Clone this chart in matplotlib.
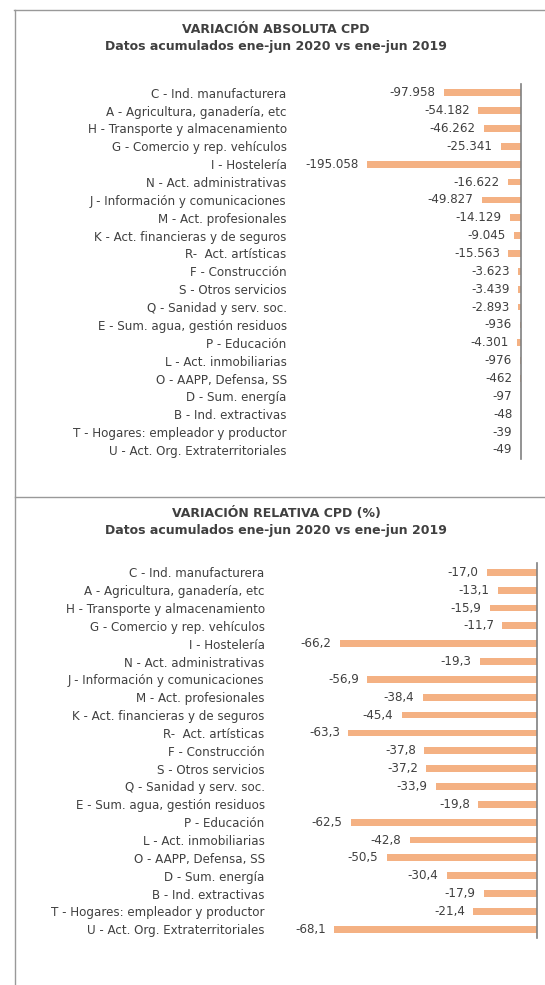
import matplotlib
matplotlib.use("Agg")
import matplotlib.pyplot as plt
from matplotlib.lines import Line2D

plt.rcParams['font.family'] = ['DejaVu Sans']

# Sector labels (same order in both charts)
sectors = [
    "C - Ind. manufacturera",
    "A - Agricultura, ganadería, etc",
    "H - Transporte y almacenamiento",
    "G - Comercio y rep. vehículos",
    "I - Hostelería",
    "N - Act. administrativas",
    "J - Información y comunicaciones",
    "M - Act. profesionales",
    "K - Act. financieras y de seguros",
    "R-  Act. artísticas",
    "F - Construcción",
    "S - Otros servicios",
    "Q - Sanidad y serv. soc.",
    "E - Sum. agua, gestión residuos",
    "P - Educación",
    "L - Act. inmobiliarias",
    "O - AAPP, Defensa, SS",
    "D - Sum. energía",
    "B - Ind. extractivas",
    "T - Hogares: empleador y productor",
    "U - Act. Org. Extraterritoriales",
]

# Absolute variation (number of contracts)
abs_var = [-97958, -54182, -46262, -25341, -195058, -16622, -49827, -14129,
           -9045, -15563, -3623, -3439, -2893, -936, -4301, -976, -462,
           -97, -48, -39, -49]

# Relative variation (%)
rel_var = [-17.0, -13.1, -15.9, -11.7, -66.2, -19.3, -56.9, -38.4, -45.4,
           -63.3, -37.8, -37.2, -33.9, -19.8, -62.5, -42.8, -50.5, -30.4,
           -17.9, -21.4, -68.1]

titles = [
    "VARIACIÓN ABSOLUTA CPD\nDatos acumulados ene-jun 2020 vs ene-jun 2019",
    "VARIACIÓN RELATIVA CPD (%)\nDatos acumulados ene-jun 2020 vs ene-jun 2019",
]

W, H = 545, 985
BAR = "#F4B183"
TXT = "#404040"
FRAME = "#999999"
FS = 8.6

fig = plt.figure(figsize=(W / 100, H / 100), dpi=100)


def px_axes(left, right, top, bottom):
    return fig.add_axes([left / W, 1 - bottom / H, (right - left) / W, (bottom - top) / H])


def fmt_abs(v):
    return f"{v:,}".replace(",", ".")


def fmt_rel(v):
    return f"{v:.1f}".replace(".", ",")


def bar_panel(ax, values, xmin, fmt, label_pad, gap):
    y = list(range(len(values)))
    ax.barh(y, values, height=0.38, color=BAR, zorder=2)
    ax.set_xlim(xmin, 0)
    ax.set_ylim(len(values) - 0.5, -0.5)
    ax.set_yticks(y)
    ax.set_yticklabels(sectors, fontsize=FS, color=TXT)
    ax.tick_params(axis="y", length=0, pad=label_pad)
    ax.set_xticks([])
    for s in ["top", "left", "bottom"]:
        ax.spines[s].set_visible(False)
    ax.spines["right"].set_color("#808080")
    ax.spines["right"].set_linewidth(1.2)
    ax.patch.set_alpha(0)
    for yi, v in zip(y, values):
        ax.annotate(fmt(v), xy=(v, yi), xytext=(-gap, 0), textcoords="offset points",
                    ha="right", va="center", fontsize=FS, color=TXT)


ax1 = px_axes(295, 520.7, 83.8, 458.9)
bar_panel(ax1, abs_var, -287000, fmt_abs, 6, 6)

ax2 = px_axes(280, 537.3, 563.4, 938.2)
bar_panel(ax2, rel_var, -86.2, fmt_rel, 11, 6)

fig.text(276 / W, 1 - 38 / H, titles[0], ha="center", va="center", fontsize=9,
         fontweight="bold", color=TXT, linespacing=1.45)
fig.text(276 / W, 1 - 522 / H, titles[1], ha="center", va="center", fontsize=9,
         fontweight="bold", color=TXT, linespacing=1.45)

# chart frames
for xs, ys in [((14, W), (10, 10)), ((15, 15), (10, H)), ((15, W), (497, 497))]:
    fig.add_artist(Line2D([x / W for x in xs], [1 - y / H for y in ys],
                          color=FRAME, lw=1, transform=fig.transFigure))

fig.savefig("out.png", dpi=100)
